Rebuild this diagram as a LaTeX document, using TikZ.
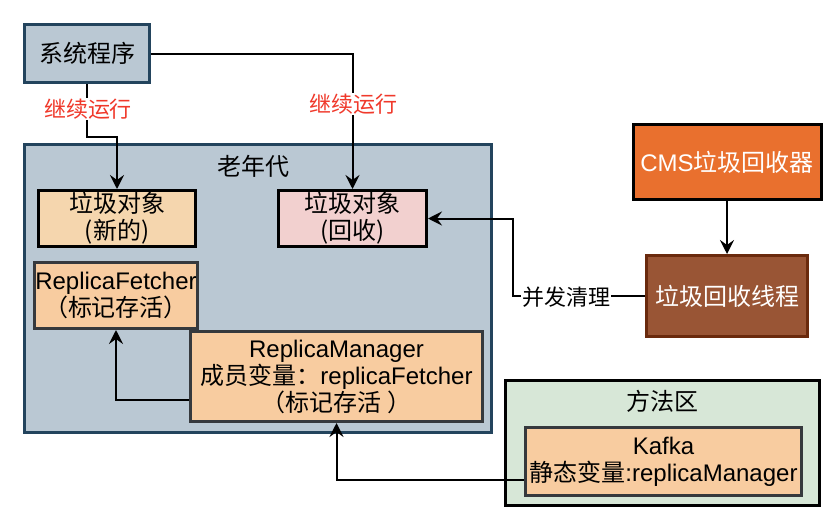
\documentclass[tikz,border=0pt]{standalone}
\usepackage{fontspec}
\setmainfont{Liberation Sans}
\newfontfamily\cjk{Noto Sans CJK SC}
\newfontfamily\lat{Liberation Sans}
\usetikzlibrary{arrows.meta}

\definecolor{slatefill}{HTML}{BAC8D3}
\definecolor{slateline}{HTML}{23445D}
\definecolor{newfill}{HTML}{F5D6AE}
\definecolor{pinkfill}{HTML}{F2D0CF}
\definecolor{objfill}{HTML}{F8CCA0}
\definecolor{objline}{HTML}{36393D}
\definecolor{cmsfill}{HTML}{E9702E}
\definecolor{thrfill}{HTML}{995535}
\definecolor{thrline}{HTML}{6A2A0D}
\definecolor{methfill}{HTML}{D7E7D7}
\definecolor{labred}{HTML}{F0392B}

\tikzset{
  box/.style={draw, rectangle, line width=3pt, align=center,
    inner sep=0pt, font=\cjk\fontsize{24}{27}\selectfont},
  conn/.style={draw, line width=2pt,
    -{Stealth[length=14pt,width=14pt,inset=5pt]}},
  lab/.style={fill=white, inner sep=1pt, font=\cjk\fontsize{22}{25}\selectfont},
  title/.style={font=\cjk\fontsize{24}{27}\selectfont}
}

\begin{document}
\begin{tikzpicture}[x=1pt,y=-1pt]
\useasboundingbox (0,0) rectangle (836,522);

% system program
\node[box, fill=slatefill, draw=slateline, minimum width=125, minimum height=58]
  (sys) at (87,53.5) {系统程序};

% old generation region
\node[box, fill=slatefill, draw=slateline, minimum width=467, minimum height=288]
  (old) at (258,288.5) {};
\node[title] (oldt) at (253,166) {老年代};

\node[box, fill=newfill, draw=black, minimum width=157, minimum height=56]
  (new) at (117,218.5) {垃圾对象\\(新的)};
\node[box, fill=pinkfill, draw=black, minimum width=148, minimum height=56]
  (rec) at (352.5,218.5) {垃圾对象\\(回收)};
\node[box, fill=objfill, draw=objline, minimum width=163, minimum height=66]
  (fetch) at (116,295.5) {{\lat ReplicaFetcher}\\（标记存活）};
\node[box, fill=objfill, draw=objline, minimum width=292, minimum height=90]
  (mgr) at (336.5,376.5)
  {{\lat ReplicaManager}\\成员变量：{\lat replicaFetcher}\\（标记存活 ）};

% collector side
\node[box, fill=cmsfill, draw=black, text=white, minimum width=188, minimum height=75]
  (cms) at (727,162) {{\lat CMS}垃圾回收器};
\node[box, fill=thrfill, draw=thrline, text=white, minimum width=161, minimum height=81]
  (thr) at (727,296) {垃圾回收线程};

% method area
\node[box, fill=methfill, draw=black, minimum width=314, minimum height=125]
  (meth) at (662.5,443) {};
\node[title] (metht) at (662,401) {方法区};
\node[box, fill=objfill, draw=objline, minimum width=276, minimum height=68]
  (kafka) at (663.5,461.5) {{\lat Kafka}\\静态变量{\lat :replicaManager}};

% connectors
\draw[conn] (sys.south) |- (117,137) -- (new.north);
\node[lab, text=labred] (l1) at (88,109) {继续运行};

\draw[conn] (sys.east) -| (rec.north);
\node[lab, text=labred] (l2) at (353,104) {继续运行};

\draw[conn] (cms.south) -- (thr.north);

\draw[conn] (thr.west) -- (513,296) |- (rec.east);
\node[lab] (l3) at (566,297) {并发清理};

\draw[conn] (mgr.west |- 0,400) -| (fetch.south);
\draw[conn] (kafka.west |- 0,480) -| (mgr.south);
\end{tikzpicture}
\end{document}
